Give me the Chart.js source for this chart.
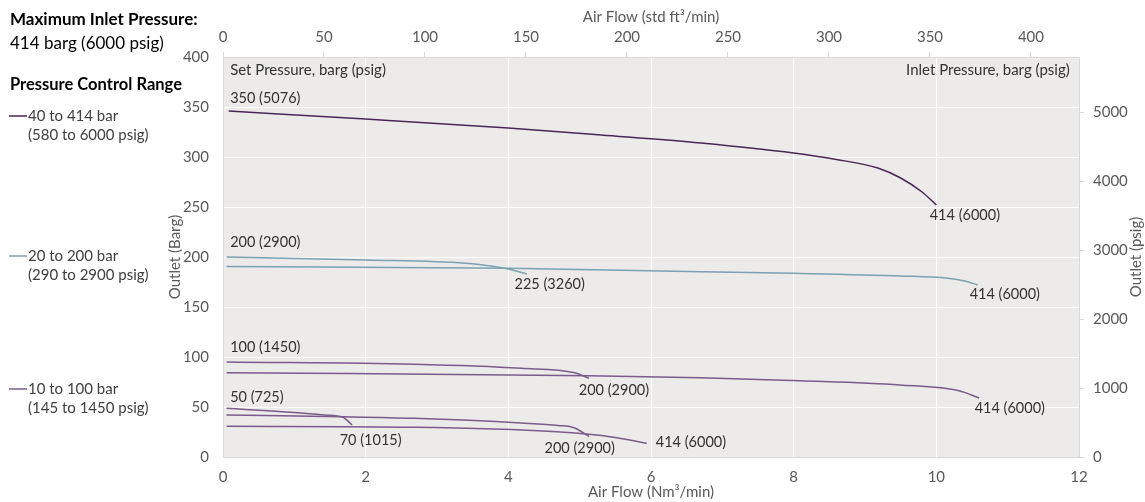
<!DOCTYPE html>
<html>
<head>
<meta charset="utf-8">
<script src="https://cdn.jsdelivr.net/npm/chart.js@4"></script>
<style>
  html, body { margin: 0; padding: 0; background: #fff; }
  #wrap { position: relative; width: 1145px; height: 502px; }
</style>
</head>
<body>
<div id="wrap"><canvas id="flowChart"></canvas></div>
<script>
// tick labels
const flowTicks = [0, 2, 4, 6, 8, 10, 12];
const scfmTicks = [0, 50, 100, 150, 200, 250, 300, 350, 400];
const barTicks = [0, 50, 100, 150, 200, 250, 300, 350, 400];
const psigTicks = [0, 1000, 2000, 3000, 4000, 5000];

// 40 to 414 bar regulator, set 350 bar
const flow350 = [0.08, 2, 4, 5.3, 6.7, 8, 8.6, 9.18, 9.5, 9.8, 10.0];
const out350 = [346, 338, 329, 322, 314, 304, 297.5, 289, 279, 265, 252];

// 20 to 200 bar regulator, set 200 bar
const flow200a = [0.05, 2, 3.4, 3.8, 4.0, 4.26];
const out200a = [200, 197, 193.7, 190.5, 188, 183];
const flow200b = [0.05, 4, 6.7, 8, 9.5, 10.16, 10.4, 10.58];
const out200b = [190.5, 188.7, 185.3, 183.7, 181, 178.7, 176, 172];

// 10 to 100 bar regulator, set 100 bar
const flow100a = [0.05, 2.68, 4.18, 4.93, 5.13];
const out100a = [95, 92.7, 88.7, 84.3, 78.7];
const flow100b = [0.05, 5.13, 6.69, 8.09, 9.49, 10.33, 10.6];
const out100b = [84.3, 81.3, 79.3, 76.3, 72, 66, 59];

// 10 to 100 bar regulator, set 50 bar
const flow50a = [0.05, 1.0, 1.43, 1.68, 1.81];
const out50a = [48.7, 44.5, 42, 39.7, 32];
const flow50b = [0.05, 1.68, 2.68, 4.18, 4.7, 4.93, 5.13];
const out50b = [42, 40.3, 38.7, 34, 31.5, 29, 20.5];
const flow50c = [0.05, 2.68, 4.68, 5.13, 5.5, 5.94];
const out50c = [30.7, 29.7, 25.3, 22.7, 19.5, 13.7];

const darkPurple = '#4b2559';
const teal = '#7aa2b2';
const purple = '#7b5b8c';

// curve annotations: text, flow, outlet bar, alignment
const notes = [
    ['Set Pressure, barg (psig)', 0.1, 387, 'left'],
    ['Inlet Pressure, barg (psig)', 11.87, 387, 'right'],
    ['350 (5076)', 0.1, 359, 'left'],
    ['414 (6000)', 10.4, 242, 'center'],
    ['200 (2900)', 0.1, 215, 'left'],
    ['225 (3260)', 4.58, 173, 'center'],
    ['414 (6000)', 10.96, 163, 'center'],
    ['100 (1450)', 0.1, 110, 'left'],
    ['200 (2900)', 5.48, 67, 'center'],
    ['414 (6000)', 11.03, 49, 'center'],
    ['50 (725)', 0.1, 60, 'left'],
    ['70 (1015)', 2.07, 17, 'center'],
    ['200 (2900)', 5.0, 9, 'center'],
    ['414 (6000)', 6.56, 15, 'center']
];

const rangeLabels = ['40 to 414 bar', '20 to 200 bar', '10 to 100 bar'];
const rangePsig = ['(580 to 6000 psig)', '(290 to 2900 psig)', '(145 to 1450 psig)'];
const rangeColors = [darkPurple, teal, purple];
const rangeY = [116, 256, 389];

const FONT = 'Lato, "Open Sans", sans-serif';

function pts(xs, ys) {
    return xs.map((x, i) => ({ x: x, y: ys[i] }));
}

function curve(xs, ys, color) {
    return {
        data: pts(xs, ys),
        borderColor: color,
        backgroundColor: color,
        borderWidth: 1.5,
        pointRadius: 0,
        fill: false,
        cubicInterpolationMode: 'monotone',
        xAxisID: 'x',
        yAxisID: 'y'
    };
}

const plotBg = {
    id: 'plotBg',
    beforeDraw(chart) {
        const a = chart.chartArea;
        const c = chart.ctx;
        c.save();
        c.fillStyle = '#ecebea';
        c.fillRect(a.left, a.top, a.right - a.left, a.bottom - a.top);
        c.restore();
    }
};

const curveNotes = {
    id: 'curveNotes',
    afterDatasetsDraw(chart) {
        const c = chart.ctx;
        const xs = chart.scales.x, ys = chart.scales.y;
        c.save();
        c.fillStyle = '#333333';
        c.textBaseline = 'middle';
        notes.forEach((n, i) => {
            c.font = (i < 2 ? '15px ' : '14.5px ') + FONT;
            c.textAlign = n[3];
            c.fillText(n[0], xs.getPixelForValue(n[1]), ys.getPixelForValue(n[2]));
        });
        c.restore();
    }
};

const sidePanel = {
    id: 'sidePanel',
    afterDraw(chart) {
        const c = chart.ctx;
        const a = chart.chartArea;
        c.save();
        c.textBaseline = 'middle';
        c.textAlign = 'left';
        c.fillStyle = '#000';
        c.font = 'bold 17px ' + FONT;
        c.fillText('Maximum Inlet Pressure:', 10, 20);
        c.font = '17px ' + FONT;
        c.fillText('414 barg (6000 psig)', 10, 44);
        c.font = 'bold 16.5px ' + FONT;
        c.fillText('Pressure Control Range', 10, 85);
        c.font = '15px ' + FONT;
        c.fillStyle = '#404040';
        rangeLabels.forEach((t, i) => {
            const y = rangeY[i];
            c.strokeStyle = rangeColors[i];
            c.lineWidth = 1.5;
            c.beginPath();
            c.moveTo(9, y);
            c.lineTo(27, y);
            c.stroke();
            c.fillText(t, 28, y);
            c.fillText(rangePsig[i], 28, y + 19);
        });
        // right axis title, reading bottom to top
        c.translate(chart.width - 9, (a.top + a.bottom) / 2);
        c.rotate(-Math.PI / 2);
        c.textAlign = 'center';
        c.fillStyle = '#595959';
        c.font = '15px ' + FONT;
        c.fillText('Outlet (psig)', 0, 0);
        c.restore();
    }
};

function fixTicks(list) {
    return scale => { scale.ticks = list.map(v => ({ value: v })); };
}

const tickFont = { family: FONT, size: 15 };
const titleFont = { family: FONT, size: 15 };

new Chart(document.getElementById('flowChart'), {
    type: 'line',
    data: {
        datasets: [
            curve(flow350, out350, darkPurple),
            curve(flow200a, out200a, teal),
            curve(flow200b, out200b, teal),
            curve(flow100a, out100a, purple),
            curve(flow100b, out100b, purple),
            curve(flow50a, out50a, purple),
            curve(flow50b, out50b, purple),
            curve(flow50c, out50c, purple)
        ]
    },
    options: {
        responsive: true,
        maintainAspectRatio: false,
        animation: false,
        layout: { padding: { left: 160, right: 0, top: 0, bottom: 0 } },
        plugins: {
            legend: { display: false },
            tooltip: { enabled: false }
        },
        scales: {
            x: {
                type: 'linear',
                position: 'bottom',
                min: 0,
                max: 12,
                afterBuildTicks: fixTicks(flowTicks),
                afterFit: s => { s.height = 45; },
                grid: { color: '#ffffff', drawTicks: false },
                border: { color: '#d9d9d9' },
                ticks: { font: tickFont, color: '#595959', padding: 11 },
                title: { display: true, text: 'Air Flow (Nm³/min)', font: titleFont, color: '#595959', padding: { top: 0, bottom: 1 } }
            },
            x2: {
                type: 'linear',
                position: 'top',
                min: 0,
                max: 12 * 35.3147,
                afterBuildTicks: fixTicks(scfmTicks),
                afterFit: s => { s.height = 57; },
                grid: { drawOnChartArea: false, color: '#d9d9d9', tickLength: 5 },
                border: { color: '#d9d9d9' },
                ticks: { font: tickFont, color: '#595959', padding: 6 },
                title: { display: true, text: 'Air Flow (std ft³/min)', font: titleFont, color: '#595959', padding: { top: 8, bottom: 0 } }
            },
            y: {
                type: 'linear',
                position: 'left',
                min: 0,
                max: 400,
                afterBuildTicks: fixTicks(barTicks),
                afterFit: s => { s.width = 63; },
                grid: { color: '#ffffff', drawTicks: false },
                border: { color: '#d9d9d9' },
                ticks: { font: tickFont, color: '#595959', padding: 14 },
                title: { display: true, text: 'Outlet (Barg)', font: titleFont, color: '#595959', padding: { top: 6, bottom: 0 } }
            },
            y2: {
                type: 'linear',
                position: 'right',
                min: 0,
                max: 400 * 14.5038,
                afterBuildTicks: fixTicks(psigTicks),
                afterFit: s => { s.width = 66; },
                grid: { drawOnChartArea: false, color: '#d9d9d9', tickLength: 5 },
                border: { color: '#d9d9d9' },
                ticks: { font: tickFont, color: '#595959', padding: 9, callback: v => String(v) },
                title: { display: false }
            }
        }
    },
    plugins: [plotBg, curveNotes, sidePanel]
});
</script>
</body>
</html>
